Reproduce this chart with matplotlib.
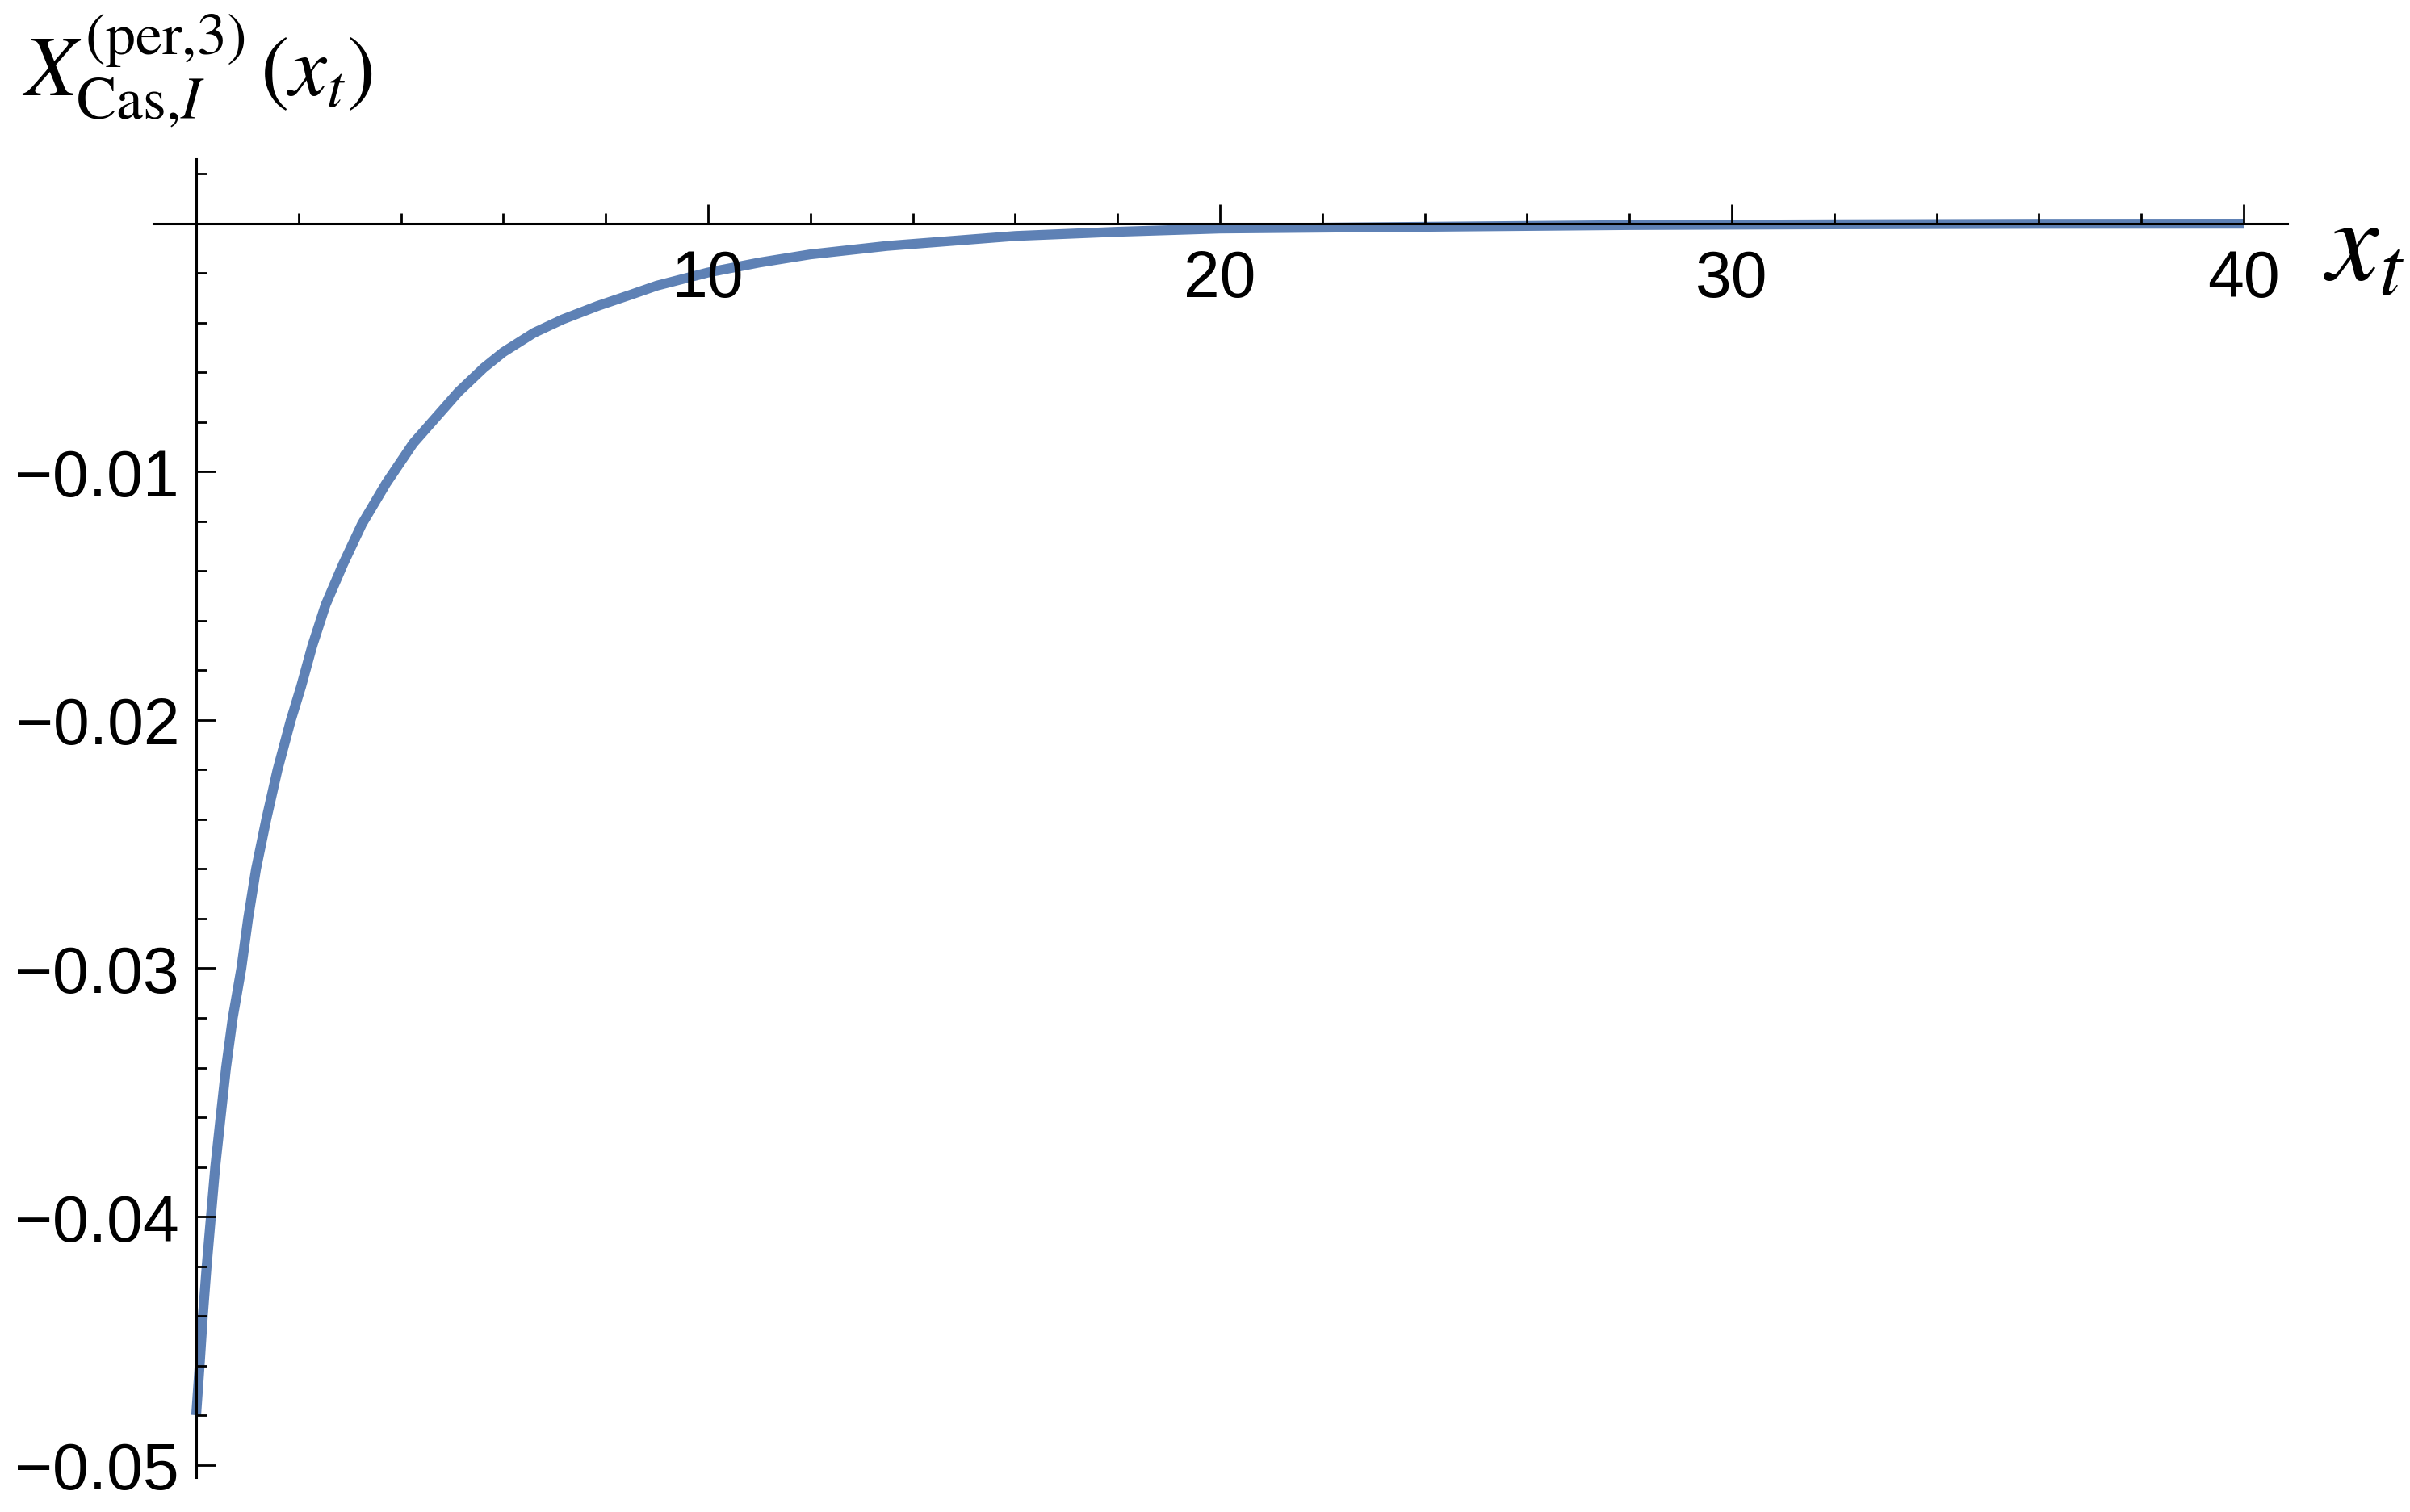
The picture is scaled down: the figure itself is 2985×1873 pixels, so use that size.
import matplotlib
matplotlib.use("Agg")
import matplotlib.pyplot as plt
from matplotlib.ticker import FixedLocator

plt.rcParams['mathtext.fontset'] = 'stix'
plt.rcParams['font.family'] = ['Liberation Sans', 'DejaVu Sans']

# curve
x_t = [0, 0.068, 0.131, 0.205, 0.289, 0.373, 0.478, 0.584, 0.715, 0.883,
       1.015, 1.17, 1.37, 1.59, 1.85, 2.05, 2.27, 2.53, 2.87, 3.24,
       3.71, 4.24, 5.12, 5.62, 6.0, 6.6, 7.16, 7.84, 8.47,
       9.0, 10, 11, 12, 13.5, 16, 18, 20, 24, 28,
       32, 36, 40]
x_cas = [-0.0480, -0.0460, -0.0440, -0.0420, -0.0400, -0.0380, -0.0360, -0.0340, -0.0320, -0.0300,
         -0.0280, -0.0260, -0.0240, -0.0220, -0.0200, -0.01865, -0.0170, -0.01535, -0.01372, -0.0121,
         -0.01047, -0.00885, -0.00679, -0.00581, -0.00518, -0.0044, -0.00386, -0.00332, -0.00288,
         -0.00250, -0.00197, -0.00157, -0.00124, -0.0009, -0.0005, -0.00033, -0.0002, -0.00013, -0.00006,
         -0.00003, -0.00001, -0.000005]

x_major = [10, 20, 30, 40]
x_minor = [2, 4, 6, 8, 12, 14, 16, 18, 22, 24, 26, 28, 32, 34, 36, 38]
y_major = [-0.05, -0.04, -0.03, -0.02, -0.01]
y_major_labels = ['\u22120.05', '\u22120.04', '\u22120.03', '\u22120.02', '\u22120.01']
y_minor = [-0.048, -0.046, -0.044, -0.042, -0.038, -0.036, -0.034, -0.032,
           -0.028, -0.026, -0.024, -0.022, -0.018, -0.016, -0.014, -0.012,
           -0.008, -0.006, -0.004, -0.002, 0.002]

W, H = 2985, 1874
fig = plt.figure(figsize=(W / 200, H / 200), dpi=200)
# axes box in pixels: left, top, right, bottom
l, t, r, b = 189.7, 198.0, 2832.9, 1830.9
ax = fig.add_axes([l / W, 1 - b / H, (r - l) / W, (b - t) / H])

ax.plot(x_t, x_cas, color='#5E81B5', lw=4.4, solid_capstyle='butt',
        solid_joinstyle='round', zorder=2)

ax.set_xlim(-0.84, 40.85)
ax.set_ylim(-0.0505, 0.0026)
ax.set_axisbelow(False)

for s in ['top', 'right']:
    ax.spines[s].set_visible(False)
ax.spines['left'].set_position(('data', 0))
ax.spines['bottom'].set_position(('data', 0))
for s in ['left', 'bottom']:
    ax.spines[s].set_linewidth(1.1)

ax.set_xticks(x_major)
ax.set_xticklabels([str(v) for v in x_major])
ax.xaxis.set_minor_locator(FixedLocator(x_minor))
ax.set_yticks(y_major)
ax.set_yticklabels(y_major_labels)
ax.yaxis.set_minor_locator(FixedLocator(y_minor))

ax.tick_params(which='major', direction='in', length=8.5, width=1.0, labelsize=29)
ax.tick_params(which='minor', direction='in', length=4.8, width=1.0)
ax.tick_params(axis='x', which='major', pad=11)
ax.tick_params(axis='y', which='major', pad=7.5)

fig.text(27 / W, 1 - 118 / H, r'$X^{(\mathrm{per}{,}3)}_{\mathrm{Cas}{,}I}\,(x_t)$',
         fontsize=38, ha='left', va='baseline')
fig.text(2878 / W, 1 - 346 / H, r'$x_t$', fontsize=52, ha='left', va='baseline')

fig.savefig('out.png', dpi=200)
